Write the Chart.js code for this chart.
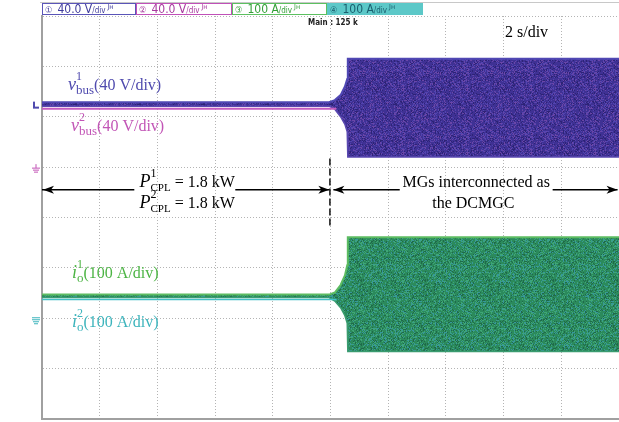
<!DOCTYPE html>
<html>
<head>
<meta charset="utf-8">
<script src="https://cdn.jsdelivr.net/npm/chart.js@4.4.0/dist/chart.umd.min.js"></script>
<style>
    body { margin: 0; background: #fff; }
    #wrap { width: 619px; height: 422px; }
</style>
</head>
<body>
<div id="wrap"><canvas id="scope" width="619" height="422"></canvas></div>
<script>
// time base: 10 div x 2 s/div ; vertical axis in screen divisions (8 div)
const TIME_MAX = 20;
const DIV_MIN = -4;
const DIV_MAX = 4;

// envelope sample times (s) - switch-over at t = 10 s
const tEnv = [0, 9.95, 10.15, 10.35, 10.5, 10.58, 10.6, 20];

// v1 bus trace envelope (div)
const v1Upper = [2.29, 2.29, 2.33, 2.43, 2.60, 2.75, 3.15, 3.15];
const v1Lower = [2.21, 2.21, 2.15, 2.00, 1.85, 1.70, 1.20, 1.20];
// v2 bus trace, only visible before the interconnection
const v2Time = [0, 10.2];
const v2Level = [2.16, 2.16];

// i1 output current envelope (div)
const i1Upper = [-1.53, -1.53, -1.49, -1.34, -1.15, -0.95, -0.39, -0.39];
const i1Lower = [-1.59, -1.59, -1.66, -1.79, -1.95, -2.10, -2.66, -2.66];
// i2 output current trace
const i2Time = [0, 10.2];
const i2Level = [-1.63, -1.63];

const SERIF = '"Liberation Serif", "Times New Roman", serif';
const SANS = '"DejaVu Sans Condensed", "DejaVu Sans", sans-serif';

function pts(xs, ys) {
    return xs.map(function (x, i) { return { x: x, y: ys[i] }; });
}

var canvas = document.getElementById('scope');
var ctx0 = canvas.getContext('2d');

// speckled fill so the switching bands look like the scope's noise band
function speckle(base, dots) {
    var c = document.createElement('canvas');
    c.width = 64; c.height = 64;
    var g = c.getContext('2d');
    g.fillStyle = base;
    g.fillRect(0, 0, 64, 64);
    for (var i = 0; i < 64; i++) {
        for (var j = 0; j < 64; j++) {
            var h = Math.imul(i, 374761393) ^ Math.imul(j, 668265263);
            h = Math.imul(h ^ (h >>> 13), 1274126177);
            var k = ((h ^ (h >>> 16)) >>> 0) % 7;
            if (k < dots.length) {
                g.fillStyle = dots[k];
                g.fillRect(i, j, 1, 1);
            }
        }
    }
    return ctx0.createPattern(c, 'repeat');
}

var purpleBand = speckle('#3f3194', ['#5244b0', '#6a46a8', '#2d2376']);
var greenBand = speckle('#2b8a5c', ['#1f6a4a', '#3fa677', '#37989a']);

function rich(ctx, x, y, parts) {
    var cx = x;
    parts.forEach(function (p) {
        ctx.font = p.f;
        ctx.fillText(p.t, cx, y + (p.dy || 0));
        if (!p.stack) cx += ctx.measureText(p.t).width;
    });
    return cx;
}

function richWidth(ctx, parts) {
    var w = 0;
    parts.forEach(function (p) {
        ctx.font = p.f;
        if (!p.stack) w += ctx.measureText(p.t).width;
    });
    return w;
}

function arrowHead(ctx, x, y, dir) {
    ctx.beginPath();
    ctx.moveTo(x, y);
    ctx.lineTo(x - dir * 11, y - 4);
    ctx.lineTo(x - dir * 8, y);
    ctx.lineTo(x - dir * 11, y + 4);
    ctx.closePath();
    ctx.fill();
}

function chanLabel(ctx, x, y, sym, n, sub, rest) {
    return rich(ctx, x, y, [
        { t: sym, f: 'italic 18px ' + SERIF },
        { t: n, f: '12px ' + SERIF, dy: -10, stack: true },
        { t: sub, f: '13px ' + SERIF, dy: 4 },
        { t: rest, f: '16px ' + SERIF }
    ]);
}

var scopeDecor = {
    id: 'scopeDecor',
    afterDraw(chart) {
        var ctx = chart.ctx;
        var xs = chart.scales.x, ys = chart.scales.y;
        var px = function (t) { return xs.getPixelForValue(t); };
        var py = function (d) { return ys.getPixelForValue(d); };
        ctx.save();

        // header strip with channel boxes
        ctx.strokeStyle = '#c8c8c8';
        ctx.lineWidth = 1;
        ctx.beginPath();
        ctx.moveTo(40, 2.5); ctx.lineTo(619, 2.5);
        ctx.stroke();
        var boxes = [
            { x: 42, w: 94, c: '#5a55b8', fill: '#fff', tc: '#403c9c', n: '\u2460', v: '40.0 V' },
            { x: 136, w: 96, c: '#c050b8', fill: '#fff', tc: '#a8389e', n: '\u2461', v: '40.0 V' },
            { x: 232, w: 95, c: '#5cc060', fill: '#fff', tc: '#34a038', n: '\u2462', v: '100 A' },
            { x: 327, w: 96, c: '#5cc8c8', fill: '#5cc8c8', tc: '#1a5e6e', n: '\u2463', v: '100 A' }
        ];
        boxes.forEach(function (b) {
            ctx.fillStyle = b.fill;
            ctx.fillRect(b.x, 3, b.w, 12);
            ctx.strokeStyle = b.c;
            ctx.lineWidth = 1;
            ctx.strokeRect(b.x + 0.5, 3.5, b.w - 1, 11);
            ctx.fillStyle = b.tc;
            ctx.textBaseline = 'alphabetic';
            var e = rich(ctx, b.x + 3, 13, [
                { t: b.n + '  ', f: '9px ' + SANS },
                { t: b.v, f: '12px ' + SANS },
                { t: '/div', f: '8px ' + SANS }
            ]);
            ctx.font = '7px ' + SANS;
            ctx.fillText('J\u043d', e + 2, 9);
        });
        ctx.fillStyle = '#222';
        ctx.font = 'bold 8px ' + SANS;
        ctx.textAlign = 'center';
        ctx.fillText('Main : 125 k', 333, 25);
        ctx.textAlign = 'left';

        // time base label
        ctx.fillStyle = '#000';
        ctx.font = '16px ' + SERIF;
        ctx.fillText('2 s/div', 505, 37);

        // channel labels
        ctx.fillStyle = '#4f4aae';
        chanLabel(ctx, 68, 90, 'v', '1', 'bus', '(40 V/div)');
        ctx.fillStyle = '#c255b6';
        chanLabel(ctx, 71, 131, 'v', '2', 'bus', '(40 V/div)');
        ctx.fillStyle = '#4cb444';
        chanLabel(ctx, 72, 278, 'i', '1', 'o', '(100 A/div)');
        ctx.fillStyle = '#3cb4bc';
        chanLabel(ctx, 72, 327, 'i', '2', 'o', '(100 A/div)');

        // load / interconnection annotations
        ctx.fillStyle = '#000';
        var p1 = [
            { t: 'P', f: 'italic 18px ' + SERIF },
            { t: '1', f: '12px ' + SERIF, dy: -10, stack: true },
            { t: 'CPL', f: '11px ' + SERIF, dy: 4 },
            { t: ' = 1.8 kW', f: '16px ' + SERIF }
        ];
        var p2 = [
            { t: 'P', f: 'italic 18px ' + SERIF },
            { t: '2', f: '12px ' + SERIF, dy: -10, stack: true },
            { t: 'CPL', f: '11px ' + SERIF, dy: 4 },
            { t: ' = 1.8 kW', f: '16px ' + SERIF }
        ];
        var cxP = px(5.03);
        rich(ctx, cxP - richWidth(ctx, p1) / 2, 187, p1);
        rich(ctx, cxP - richWidth(ctx, p2) / 2, 208, p2);
        ctx.font = '16px ' + SERIF;
        ctx.textAlign = 'center';
        ctx.fillText('MGs interconnected as', px(15.05), 187);
        ctx.fillText('the DCMGC', px(14.95), 208);
        ctx.textAlign = 'left';

        var ay = py(0.55);
        ctx.strokeStyle = '#000';
        ctx.lineWidth = 1.6;
        ctx.beginPath();
        ctx.moveTo(px(0), ay); ctx.lineTo(px(3.2), ay);
        ctx.moveTo(px(6.7), ay); ctx.lineTo(px(9.96), ay);
        ctx.moveTo(px(10.1), ay); ctx.lineTo(px(12.4), ay);
        ctx.moveTo(px(17.7), ay); ctx.lineTo(px(19.95), ay);
        ctx.stroke();
        arrowHead(ctx, px(0) + 1, ay, -1);
        arrowHead(ctx, px(9.96), ay, 1);
        arrowHead(ctx, px(10.1), ay, -1);
        arrowHead(ctx, px(19.95), ay, 1);
        ctx.lineWidth = 1.4;
        ctx.setLineDash([7, 3]);
        ctx.beginPath();
        ctx.moveTo(px(9.98), py(1.17)); ctx.lineTo(px(9.98), py(-0.2));
        ctx.stroke();
        ctx.setLineDash([]);

        // channel level markers on the left edge
        ctx.fillStyle = '#4f4aae';
        ctx.fillRect(33, py(2.3), 2, 6);
        ctx.fillRect(33, py(2.3) + 5, 6, 2);
        ctx.strokeStyle = '#c255b6';
        ctx.lineWidth = 1;
        ctx.beginPath();
        ctx.moveTo(36, py(0.98) - 4); ctx.lineTo(36, py(0.98));
        ctx.moveTo(32, py(0.98)); ctx.lineTo(40, py(0.98));
        ctx.moveTo(33, py(0.98) + 2); ctx.lineTo(39, py(0.98) + 2);
        ctx.moveTo(34, py(0.98) + 4); ctx.lineTo(38, py(0.98) + 4);
        ctx.stroke();
        ctx.strokeStyle = '#3cb4bc';
        ctx.beginPath();
        ctx.moveTo(32, py(-2.03) - 2); ctx.lineTo(40, py(-2.03) - 2);
        ctx.moveTo(32, py(-2.03)); ctx.lineTo(40, py(-2.03));
        ctx.moveTo(33, py(-2.03) + 2); ctx.lineTo(39, py(-2.03) + 2);
        ctx.moveTo(34, py(-2.03) + 4); ctx.lineTo(38, py(-2.03) + 4);
        ctx.stroke();

        ctx.restore();
    }
};

var scopeChart = new Chart(canvas, {
    type: 'line',
    data: {
        datasets: [
            {
                label: 'v1 upper',
                data: pts(tEnv, v1Upper),
                borderColor: '#5048b4',
                borderWidth: 2,
                pointRadius: 0,
                fill: false,
                order: 2
            },
            {
                label: 'v1 lower',
                data: pts(tEnv, v1Lower),
                borderColor: '#5a48b0',
                borderWidth: 1.5,
                pointRadius: 0,
                backgroundColor: purpleBand,
                fill: '-1',
                order: 2
            },
            {
                label: 'v2',
                data: pts(v2Time, v2Level),
                borderColor: '#c45cbf',
                borderWidth: 2,
                pointRadius: 0,
                fill: false,
                order: 1
            },
            {
                label: 'i1 upper',
                data: pts(tEnv, i1Upper),
                borderColor: '#5cbc62',
                borderWidth: 2,
                pointRadius: 0,
                fill: false,
                order: 2
            },
            {
                label: 'i1 lower',
                data: pts(tEnv, i1Lower),
                borderColor: '#3a9c70',
                borderWidth: 1.5,
                pointRadius: 0,
                backgroundColor: greenBand,
                fill: '-1',
                order: 2
            },
            {
                label: 'i2',
                data: pts(i2Time, i2Level),
                borderColor: '#45c0c6',
                borderWidth: 1.5,
                pointRadius: 0,
                fill: false,
                order: 1
            }
        ]
    },
    options: {
        responsive: false,
        animation: false,
        events: [],
        layout: { padding: { left: 42, top: 16, right: 0, bottom: 3 } },
        plugins: {
            legend: { display: false },
            tooltip: { enabled: false }
        },
        elements: { line: { tension: 0 } },
        scales: {
            x: {
                type: 'linear',
                min: 0,
                max: TIME_MAX,
                ticks: { display: false, stepSize: 2 },
                grid: { color: '#b4b4b4', lineWidth: 1, drawTicks: false },
                border: { display: true, color: '#a0a0a0', width: 2, dash: [1, 2] }
            },
            y: {
                type: 'linear',
                min: DIV_MIN,
                max: DIV_MAX,
                ticks: { display: false, stepSize: 1 },
                grid: { color: '#b4b4b4', lineWidth: 1, drawTicks: false },
                border: { display: true, color: '#a0a0a0', width: 2, dash: [1, 2] }
            }
        }
    },
    plugins: [scopeDecor]
});
</script>
</body>
</html>
